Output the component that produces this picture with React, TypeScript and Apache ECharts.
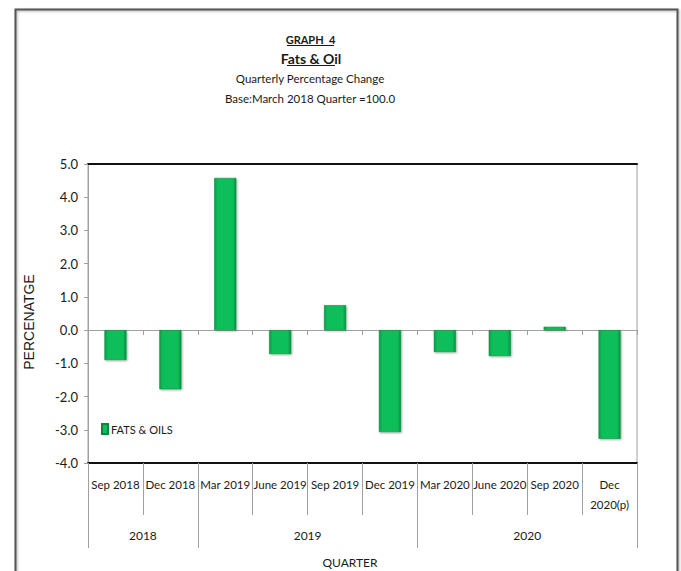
import React, { useEffect, useRef } from "react";
import * as echarts from "echarts";

const categories = [
  "Sep 2018", "Dec 2018", "Mar 2019", "June 2019", "Sep 2019",
  "Dec 2019", "Mar 2020", "June 2020", "Sep 2020", "Dec 2020(p)",
];
const values = [-0.9, -1.78, 4.58, -0.72, 0.75, -3.07, -0.66, -0.78, 0.1, -3.27];
const groupNames = ["2018", "2019", "2020"];
const groupSizes = [2, 4, 4];
const yTicks = { min: -4, max: 5, interval: 1 };
const seriesName = "FATS & OILS";
const titleLines = ["GRAPH  4", "Fats & Oil", "Quarterly Percentage Change", "Base:March 2018 Quarter =100.0"];

const FONT = "Lato, 'Liberation Sans', sans-serif";
const TXT = "#1a1a1a";
const GRAY = "#a0a0a0";

export default function App() {
  const ref = useRef<HTMLDivElement>(null);
  useEffect(() => {
    if (!ref.current) return;
    const chart = echarts.init(ref.current, null, { renderer: "svg" });

    const bounds: number[] = [0];
    groupSizes.forEach((s) => bounds.push(bounds[bounds.length - 1] + s));
    const mids = groupNames.map((_, i) => (bounds[i] + bounds[i + 1]) / 2);

    const barColor = new echarts.graphic.LinearGradient(0, 0, 1, 0, [
      { offset: 0, color: "#079c47" },
      { offset: 0.15, color: "#0fbe5a" },
      { offset: 0.85, color: "#0fbe5a" },
      { offset: 1, color: "#06913f" },
    ]);

    chart.setOption({
      animation: false,
      backgroundColor: "#ffffff",
      textStyle: { fontFamily: FONT },
      grid: {
        left: 88, top: 164, width: 549, height: 299,
        show: true, borderColor: GRAY, borderWidth: 1, backgroundColor: "transparent",
      },
      legend: {
        left: 101, top: 423, padding: 0, icon: "rect", itemWidth: 6, itemHeight: 10, itemGap: 4,
        textStyle: { fontFamily: FONT, fontSize: 11, color: TXT, padding: [0, 0, 0, -2] },
        data: [seriesName],
      },
      xAxis: [
        {
          type: "category", data: categories, position: "bottom",
          axisLine: { onZero: true, lineStyle: { color: GRAY, width: 1 } },
          axisTick: { show: true, length: 5, interval: 0, lineStyle: { color: GRAY } },
          axisLabel: { show: false },
          splitLine: { show: false },
        },
        {
          type: "category", data: categories, position: "bottom",
          axisLine: { onZero: false, lineStyle: { color: "#111", width: 2 } },
          axisTick: { show: true, length: 52, interval: 0, lineStyle: { color: GRAY } },
          axisLabel: {
            interval: 0, margin: 11, fontFamily: FONT, fontSize: 11.5, color: TXT, lineHeight: 20,
            formatter: (v: string) => (v.indexOf("(p)") >= 0 ? v.replace(" ", "\n") : v),
          },
          splitLine: { show: false },
        },
        {
          type: "value", min: bounds[0], max: bounds[bounds.length - 1], position: "bottom",
          axisLine: { show: false, onZero: false },
          axisTick: { show: true, length: 85, customValues: bounds, lineStyle: { color: GRAY } },
          axisLabel: {
            customValues: mids, margin: 66, fontFamily: FONT, fontSize: 12, color: TXT,
            formatter: (v: number) => {
              const i = mids.indexOf(v);
              return i >= 0 ? groupNames[i] : "";
            },
          },
          splitLine: { show: false },
        },
        {
          type: "category", data: categories, position: "top",
          axisLine: { onZero: false, lineStyle: { color: "#111", width: 2 } },
          axisTick: { show: false }, axisLabel: { show: false }, splitLine: { show: false },
        },
      ],
      yAxis: {
        type: "value", min: yTicks.min, max: yTicks.max, interval: yTicks.interval,
        axisLine: { show: true, lineStyle: { color: GRAY } },
        axisTick: { show: true, length: 4, lineStyle: { color: GRAY } },
        axisLabel: { margin: 10, fontFamily: FONT, fontSize: 13, color: TXT, formatter: (v: number) => v.toFixed(1) },
        splitLine: { show: false },
      },
      series: [
        {
          name: seriesName, type: "bar", data: values, xAxisIndex: 0, barWidth: 22,
          itemStyle: {
            color: barColor,
            borderColor: "#07863c", borderWidth: 0.5,
            shadowColor: "rgba(0,0,0,0.35)", shadowBlur: 2, shadowOffsetX: 1, shadowOffsetY: 1,
          },
        },
      ],
      graphic: [
        {
          type: "rect", left: 13, top: 7, silent: true,
          shape: { width: 662, height: 620 },
          style: { fill: "none", stroke: "#555", lineWidth: 2, shadowColor: "rgba(0,0,0,0.3)", shadowBlur: 2, shadowOffsetX: 1, shadowOffsetY: 1 },
          z: -1,
        },
        { type: "text", x: 310.5, y: 39, style: { text: titleLines[0], fontFamily: FONT, fontSize: 11, fontWeight: "bold", fill: TXT, align: "center", verticalAlign: "middle" } },
        { type: "line", shape: { x1: 287, y1: 45.5, x2: 334, y2: 45.5 }, style: { stroke: TXT, lineWidth: 1 } },
        { type: "text", x: 311, y: 58, style: { text: titleLines[1], fontFamily: FONT, fontSize: 14, fontWeight: "bold", fill: TXT, align: "center", verticalAlign: "middle" } },
        { type: "line", shape: { x1: 287, y1: 65.5, x2: 335, y2: 65.5 }, style: { stroke: TXT, lineWidth: 1 } },
        { type: "text", x: 310, y: 78, style: { text: titleLines[2], fontFamily: FONT, fontSize: 11.5, fill: TXT, align: "center", verticalAlign: "middle" } },
        { type: "text", x: 310, y: 98, style: { text: titleLines[3], fontFamily: FONT, fontSize: 11.5, fill: TXT, align: "center", verticalAlign: "middle" } },
        { type: "text", x: 29, y: 322, rotation: Math.PI / 2, style: { text: "PERCENATGE", fontFamily: "'Liberation Sans', Arial, sans-serif", fontSize: 14, fill: TXT, align: "center", verticalAlign: "middle" } },
        { type: "text", x: 350, y: 562, style: { text: "QUARTER", fontFamily: FONT, fontSize: 12, fill: TXT, align: "center", verticalAlign: "middle" } },
      ],
    });
    return () => chart.dispose();
  }, []);
  return <div ref={ref} style={{ position: "absolute", left: 0, top: 0, width: 681, height: 571 }} />;
}
